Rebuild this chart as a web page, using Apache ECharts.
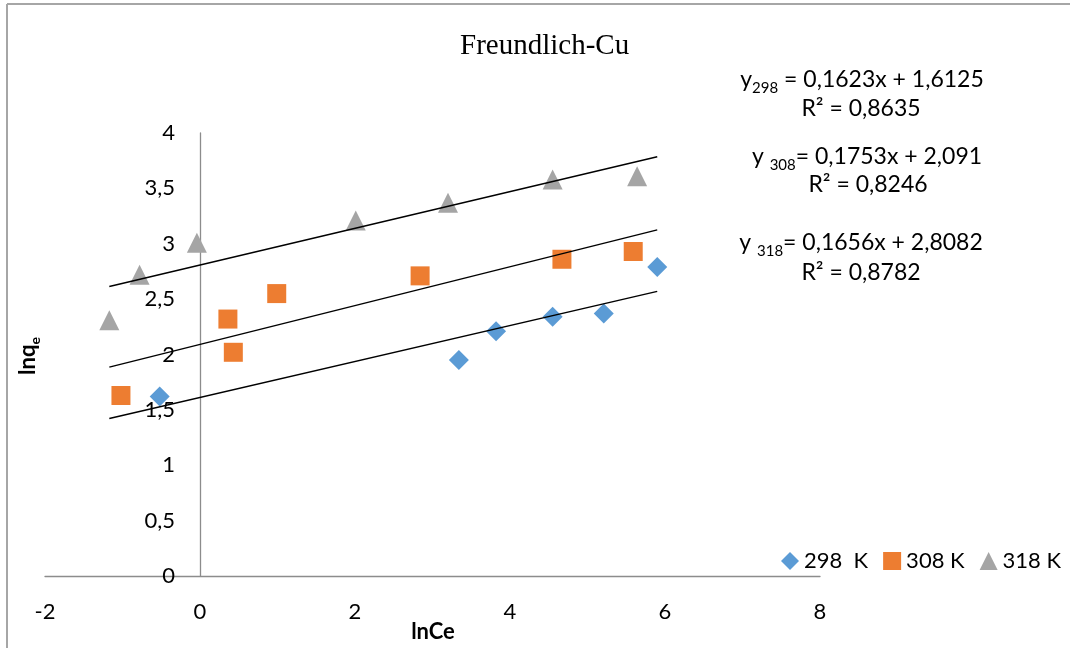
<!DOCTYPE html>
<html>
<head>
<meta charset="utf-8">
<title>Freundlich-Cu</title>
<script src="https://cdn.jsdelivr.net/npm/echarts@6/dist/echarts.min.js"></script>
<style>
    html, body { margin: 0; padding: 0; background: #fff; }
    #chart { width: 1070px; height: 648px; }
</style>
</head>
<body>
<div id="chart"></div>
<script>
    // Scatter data: [lnCe, lnqe]
    var SERIES_NAMES = ['298  K', '308 K', '318 K'];

    var DATA_298 = [
        [-0.52, 1.62], [3.34, 1.95], [3.82, 2.21], [4.55, 2.34],
        [5.21, 2.37], [5.90, 2.79]
    ];
    var DATA_308 = [
        [-1.02, 1.63], [0.36, 2.32], [0.43, 2.02], [0.99, 2.55],
        [2.84, 2.71], [4.67, 2.86], [5.59, 2.93]
    ];
    var DATA_318 = [
        [-1.17, 2.31], [-0.78, 2.72], [-0.04, 3.01], [2.01, 3.21],
        [3.20, 3.37], [4.55, 3.58], [5.64, 3.61]
    ];

    // Linear trendlines as printed on the chart (slope, intercept) and their x span.
    var TREND_SLOPES = [0.1623, 0.1753, 0.1656];
    var TREND_INTERCEPTS = [1.6125, 2.091, 2.8082];
    var TREND_X_RANGE = [-1.17, 5.9];

    var X_TICKS = { min: -2, max: 8, interval: 2 };
    var Y_TICKS = { min: 0, max: 4, interval: 0.5 };

    var COLORS = ['#5b9bd5', '#ed7d31', '#a5a5a5'];
    var SYMBOLS = ['diamond', 'rect', 'triangle'];
    var SYMBOL_SIZES = [20, 19, 20];
    var FONT = 'Lato, "Open Sans", sans-serif';
    var FS = 22;

    function comma(v) {
        return String(v).replace('.', ',');
    }

    function trendPoints(i) {
        return TREND_X_RANGE.map(function (x) {
            return [x, TREND_SLOPES[i] * x + TREND_INTERCEPTS[i]];
        });
    }

    var subRich = {
        a: { fontFamily: FONT, fontSize: 23, color: '#000' },
        s: { fontFamily: FONT, fontSize: 15, color: '#000', padding: [16, 0, 0, 0] }
    };

    function eqText(x, y, text) {
        return {
            type: 'text', x: x, y: y,
            style: { text: text, rich: subRich, align: 'center', verticalAlign: 'middle' }
        };
    }

    var scatterSeries = [DATA_298, DATA_308, DATA_318].map(function (d, i) {
        return {
            name: SERIES_NAMES[i],
            type: 'scatter',
            data: d,
            symbol: SYMBOLS[i],
            symbolSize: SYMBOL_SIZES[i],
            itemStyle: { color: COLORS[i], opacity: 1 },
            z: 3
        };
    });

    var trendSeries = [0, 1, 2].map(function (i) {
        return {
            name: 'trend' + i,
            type: 'line',
            data: trendPoints(i),
            symbol: 'none',
            silent: true,
            lineStyle: { color: '#000', width: 1.4 },
            z: 4
        };
    });

    var chart = echarts.init(document.getElementById('chart'), null, { renderer: 'canvas' });

    chart.setOption({
        animation: false,
        backgroundColor: '#fff',
        title: {
            text: 'Freundlich-Cu',
            left: 455,
            top: 27,
            textStyle: { fontFamily: '"Liberation Serif", "Times New Roman", serif', fontSize: 29, fontWeight: 'normal', color: '#000' }
        },
        grid: { left: 45, right: 250, top: 133, bottom: 72, outerBoundsMode: 'none', containLabel: false },
        legend: {
            data: SERIES_NAMES,
            left: 776,
            top: 545,
            itemWidth: 18,
            itemHeight: 18,
            itemGap: 15,
            textStyle: { fontFamily: FONT, fontSize: FS, color: '#000' }
        },
        xAxis: {
            type: 'value',
            min: X_TICKS.min,
            max: X_TICKS.max,
            interval: X_TICKS.interval,
            splitLine: { show: false },
            axisTick: { show: false },
            axisLine: { onZero: true, lineStyle: { color: '#8c8c8c', width: 1.3 } },
            axisLabel: { margin: 25, fontFamily: FONT, fontSize: FS, color: '#000', formatter: comma }
        },
        yAxis: {
            type: 'value',
            min: Y_TICKS.min,
            max: Y_TICKS.max,
            interval: Y_TICKS.interval,
            // vertical axis crosses at lnCe = 0 (155 px right of the grid's left edge)
            offset: -155,
            splitLine: { show: false },
            axisTick: { show: false },
            axisLine: { show: true, onZero: false, lineStyle: { color: '#8c8c8c', width: 1.3 } },
            axisLabel: { margin: 25, fontFamily: FONT, fontSize: FS, color: '#000', formatter: comma }
        },
        graphic: [
            // Frame lines (top and left only)
            { type: 'line', shape: { x1: 7, y1: 4, x2: 1070, y2: 4 }, style: { stroke: '#a6a6a6', lineWidth: 2 } },
            { type: 'line', shape: { x1: 7, y1: 4, x2: 7, y2: 648 }, style: { stroke: '#a6a6a6', lineWidth: 2 } },
            // Axis titles
            {
                type: 'text', x: 28, y: 356, rotation: Math.PI / 2,
                style: {
                    text: '{b|lnq}{e|e}', align: 'center', verticalAlign: 'middle',
                    rich: {
                        b: { fontFamily: FONT, fontSize: FS, fontWeight: 'bold', color: '#000' },
                        e: { fontFamily: FONT, fontSize: 14, fontWeight: 'bold', color: '#000', padding: [14, 0, 0, 0] }
                    }
                }
            },
            {
                type: 'text', x: 433, y: 632,
                style: { text: 'lnCe', align: 'center', verticalAlign: 'middle', fontFamily: FONT, fontSize: FS, fontWeight: 'bold', fill: '#000' }
            },
            // Trendline equations
            eqText(862, 80, '{a|y}{s|298}{a| = 0,1623x + 1,6125}'),
            eqText(861, 109, '{a|R² = 0,8635}'),
            eqText(867, 157, '{a|y }{s|308}{a|= 0,1753x + 2,091}'),
            eqText(868, 185, '{a|R² = 0,8246}'),
            eqText(861, 243, '{a|y }{s|318}{a|= 0,1656x + 2,8082}'),
            eqText(861, 273, '{a|R² = 0,8782}')
        ],
        series: trendSeries.concat(scatterSeries)
    });
</script>
</body>
</html>
